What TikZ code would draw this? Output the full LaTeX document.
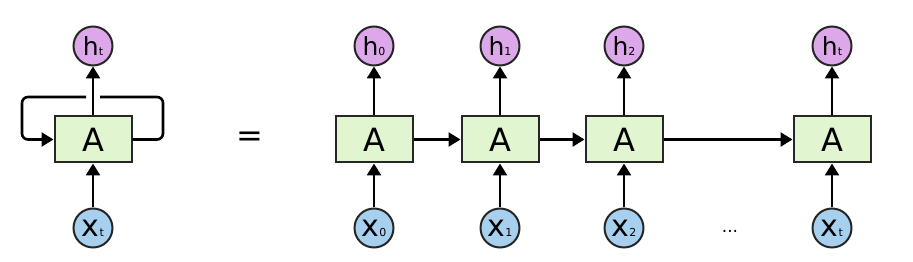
\documentclass[tikz,border=0pt]{standalone}
\usepackage{fontspec}
\setmainfont{DejaVu Sans}
\usetikzlibrary{arrows.meta,positioning}
\definecolor{keret}{HTML}{262626}
\definecolor{zold}{HTML}{E0F5D0}
\definecolor{lila}{HTML}{DDA8EA}
\definecolor{kek}{HTML}{A6D0EE}
\tikzset{
  cella/.style={draw=keret,fill=zold,line width=2pt,minimum width=77pt,minimum height=46pt,
    inner sep=0pt,font=\fontsize{32}{32}\selectfont},
  hkor/.style={circle,draw=keret,fill=lila,line width=2pt,minimum size=39pt,inner sep=0pt},
  xkor/.style={circle,draw=keret,fill=kek,line width=2pt,minimum size=39pt,inner sep=0pt},
  nyil/.style={-{Triangle[length=12pt,width=14pt]},line width=2.6pt,draw=black},
  hurok/.style={line width=2.6pt,rounded corners=6pt},
}
\newcommand{\hjel}[1]{{\fontsize{25}{25}\selectfont h}{\fontsize{11}{11}\selectfont #1}}
\newcommand{\xjel}[1]{{\fontsize{30}{30}\selectfont x}{\fontsize{11}{11}\selectfont #1}}

\begin{document}
\begin{tikzpicture}[x=1pt,y=1pt]
  \useasboundingbox (0,0) rectangle (913,262);
  % folded network
  \node[cella] (bal) at (93,122.5) {A};
  \node[hkor] (hbal) at (93,216) {\hjel{t}};
  \node[xkor] (xbal) at (93,34) {\xjel{t}};
  \draw[nyil] (xbal) -- (bal);
  \draw[nyil] (bal) -- (hbal);
  \coordinate (jf) at (163,165); \coordinate (bf) at (22,165);
  \coordinate (rj) at (100,165); \coordinate (rb) at (86,165);
  \draw[hurok] (bal.east) -| (jf) -- (rj);
  \draw[hurok,nyil] (rb) -- (bf) |- (bal.west);
  \node[font=\fontsize{32}{32}\selectfont] (egyenlo) at (250,122.5) {=};
  % unrolled network
  \node[cella] (a0) at (374,122.5) {A};
  \node[cella] (a1) at (500,122.5) {A};
  \node[cella] (a2) at (624,122.5) {A};
  \node[cella] (at) at (832,122.5) {A};
  \node[hkor] (h0) at (374,216) {\hjel{0}};
  \node[hkor] (h1) at (500,216) {\hjel{1}};
  \node[hkor] (h2) at (624,216) {\hjel{2}};
  \node[hkor] (ht) at (832,216) {\hjel{t}};
  \node[xkor] (x0) at (374,34) {\xjel{0}};
  \node[xkor] (x1) at (500,34) {\xjel{1}};
  \node[xkor] (x2) at (624,34) {\xjel{2}};
  \node[xkor] (xt) at (832,34) {\xjel{t}};
  \node[font=\fontsize{17}{17}\selectfont] (pontok) at (730,31) {...};
  \draw[nyil] (x0) -- (a0); \draw[nyil] (a0) -- (h0);
  \draw[nyil] (x1) -- (a1); \draw[nyil] (a1) -- (h1);
  \draw[nyil] (x2) -- (a2); \draw[nyil] (a2) -- (h2);
  \draw[nyil] (xt) -- (at); \draw[nyil] (at) -- (ht);
  \draw[nyil] (a0) -- (a1);
  \draw[nyil] (a1) -- (a2);
  \draw[nyil] (a2) -- (at);
\end{tikzpicture}
\end{document}
